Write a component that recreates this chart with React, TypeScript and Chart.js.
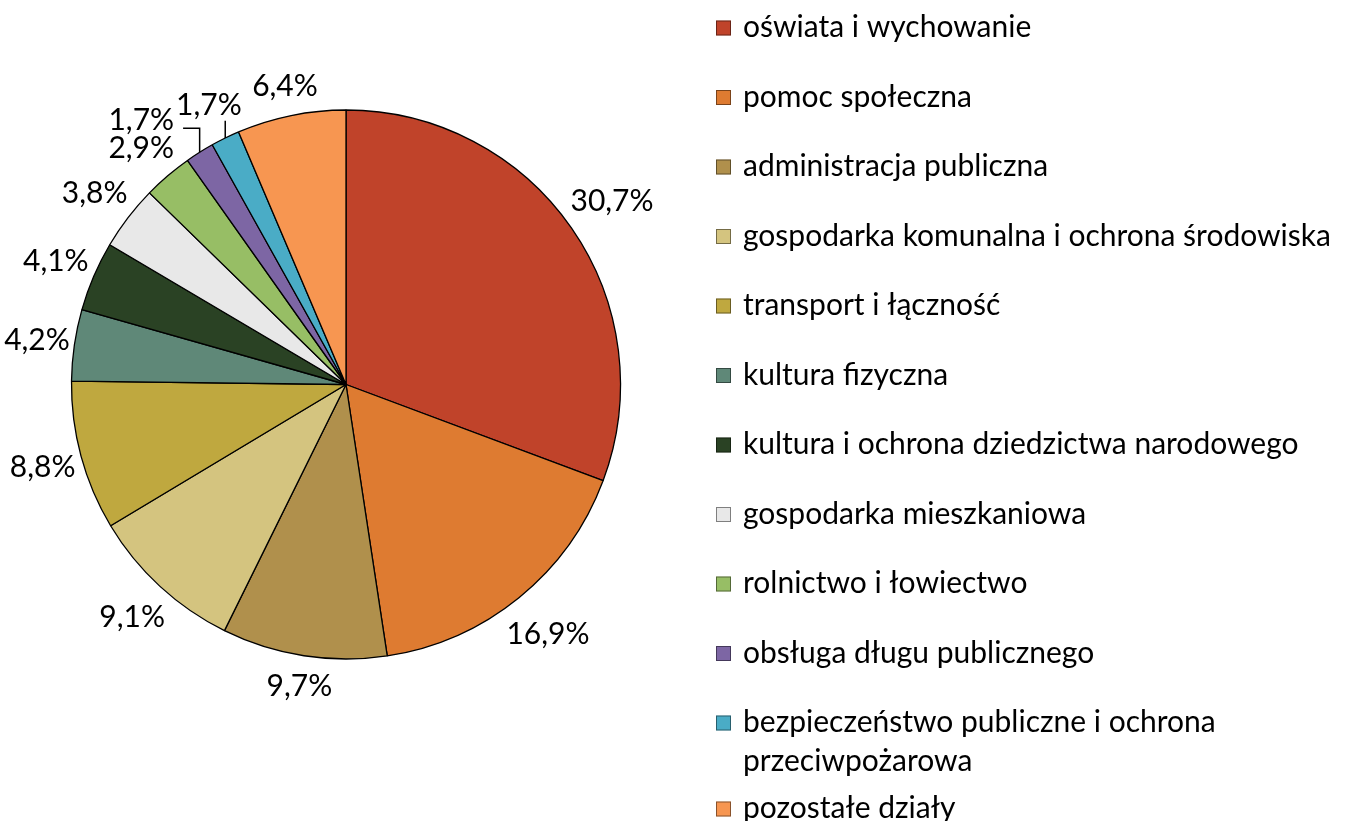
import React, { useEffect, useRef } from "react";
import { Chart, registerables } from "chart.js";

Chart.register(...registerables);

const categories: string[] = [
  "oświata i wychowanie",
  "pomoc społeczna",
  "administracja publiczna",
  "gospodarka komunalna i ochrona środowiska",
  "transport i łączność",
  "kultura fizyczna",
  "kultura i ochrona dziedzictwa narodowego",
  "gospodarka mieszkaniowa",
  "rolnictwo i łowiectwo",
  "obsługa długu publicznego",
  "bezpieczeństwo publiczne i ochrona przeciwpożarowa",
  "pozostałe działy",
];

const shares: number[] = [30.7, 16.9, 9.7, 9.1, 8.8, 4.2, 4.1, 3.8, 2.9, 1.7, 1.7, 6.4];

const sliceColors: string[] = [
  "#C0432A",
  "#DE7B31",
  "#B0904C",
  "#D4C47F",
  "#BFA83F",
  "#5F8878",
  "#2A4224",
  "#E8E8E8",
  "#97BE65",
  "#7D66A4",
  "#4AACC6",
  "#F79651",
];

const FONT_FAMILY = "Lato, 'Open Sans', sans-serif";
const FONT_SIZE = 30;
const LABEL_H = 26;

const fmt = (v: number) => v.toFixed(1).replace(".", ",") + "%";

type Box = { cx: number; cy: number; w: number; h: number };
const overlap = (a: Box, b: Box, pad: number) =>
  Math.abs(a.cx - b.cx) < (a.w + b.w) / 2 + pad && Math.abs(a.cy - b.cy) < (a.h + b.h) / 2 + pad;

const pieLabelsPlugin = {
  id: "pieLabels",
  afterDatasetsDraw(chart: any) {
    const ctx: CanvasRenderingContext2D = chart.ctx;
    const meta = chart.getDatasetMeta(0);
    ctx.save();
    ctx.font = `${FONT_SIZE}px ${FONT_FAMILY}`;
    const items: any[] = [];
    meta.data.forEach((arc: any, i: number) => {
      const p = arc.getProps(["x", "y", "startAngle", "endAngle", "outerRadius"], true);
      const mid = (p.startAngle + p.endAngle) / 2;
      const dx = Math.cos(mid);
      const dy = Math.sin(mid);
      const text = fmt(shares[i]);
      const w = ctx.measureText(text).width;
      const h = LABEL_H;
      const gap = 2 + 10 * Math.abs(dy);
      const support = (Math.abs(dx) * w) / 2 + (Math.abs(dy) * h) / 2;
      const R = p.outerRadius + gap + support;
      items[i] = {
        text, w, h, dx, dy, p,
        cx: p.x + dx * R,
        cy: p.y + dy * R,
        ox: p.x + dx * R,
        oy: p.y + dy * R,
        span: (p.endAngle - p.startAngle) * p.outerRadius,
      };
    });
    // resolve collisions, going counter-clockwise from the last slice
    const placed: any[] = [];
    for (let i = items.length - 1; i >= 0; i--) {
      const it = items[i];
      for (let iter = 0; iter < 10; iter++) {
        const hit = placed.find((o) => overlap(it, o, 2));
        if (!hit) break;
        const cands = [
          { x: hit.cx - (hit.w + it.w) / 2 - 2 - it.cx, y: 0 },
          { x: hit.cx + (hit.w + it.w) / 2 + 2 - it.cx, y: 0 },
          { x: 0, y: hit.cy - (hit.h + it.h) / 2 - 2 - it.cy },
          { x: 0, y: hit.cy + (hit.h + it.h) / 2 + 2 - it.cy },
        ].filter((c) => {
          const nx = it.cx + c.x;
          const ny = it.cy + c.y;
          const qx = Math.max(nx - it.w / 2, Math.min(it.p.x, nx + it.w / 2));
          const qy = Math.max(ny - it.h / 2, Math.min(it.p.y, ny + it.h / 2));
          return Math.hypot(qx - it.p.x, qy - it.p.y) > it.p.outerRadius + 3;
        });
        if (!cands.length) break;
        cands.sort((a, b) => Math.hypot(a.x, a.y) - Math.hypot(b.x, b.y));
        it.cx += cands[0].x;
        it.cy += cands[0].y;
      }
      placed.push(it);
    }
    ctx.fillStyle = "#000";
    ctx.strokeStyle = "#000";
    ctx.lineWidth = 1.5;
    ctx.textAlign = "center";
    ctx.textBaseline = "middle";
    items.forEach((it) => {
      ctx.fillText(it.text, it.cx, it.cy + 1);
      const moved = Math.hypot(it.cx - it.ox, it.cy - it.oy) > 12;
      if (moved || it.span < it.w * 0.6) {
        const ex = it.p.x + it.dx * it.p.outerRadius;
        const ey = it.p.y + it.dy * it.p.outerRadius;
        const left = it.cx - it.w / 2;
        const right = it.cx + it.w / 2;
        const top = it.cy - it.h / 2;
        const bottom = it.cy + it.h / 2;
        ctx.beginPath();
        if (ex > left + 4 && ex < right - 4) {
          ctx.moveTo(ex, ey);
          ctx.lineTo(ex, ey > bottom ? bottom + 3 : top - 3);
        } else {
          const ly = ey > bottom ? bottom - 4 : ey < top ? top + 4 : ey;
          const lx = ex > right ? right + 9 : left - 9;
          ctx.moveTo(ex, ey);
          ctx.lineTo(ex, ly);
          ctx.lineTo(lx, ly);
        }
        ctx.stroke();
      }
    });
    ctx.restore();
  },
};

const LEGEND_BOX_X = 716;
const LEGEND_TEXT_X = 743;
const LEGEND_TOP = 28;
const LEGEND_STEP = 69.5;
const LEGEND_EXTRA_LINE = 16.5;
const LEGEND_LINE_H = 39;
const LEGEND_MAX_W = 606;

const legendPlugin = {
  id: "sideLegend",
  afterDraw(chart: any) {
    const ctx: CanvasRenderingContext2D = chart.ctx;
    ctx.save();
    ctx.font = `${FONT_SIZE}px ${FONT_FAMILY}`;
    ctx.textAlign = "left";
    ctx.textBaseline = "middle";
    let y = LEGEND_TOP;
    categories.forEach((label, i) => {
      const words = label.split(" ");
      const lines: string[] = [];
      let cur = "";
      words.forEach((w) => {
        const t = cur ? cur + " " + w : w;
        if (cur && ctx.measureText(t).width > LEGEND_MAX_W) {
          lines.push(cur);
          cur = w;
        } else cur = t;
      });
      lines.push(cur);
      ctx.fillStyle = sliceColors[i];
      ctx.fillRect(LEGEND_BOX_X, y - 7.5, 15, 15);
      ctx.strokeStyle = "rgba(0,0,0,0.45)";
      ctx.lineWidth = 1;
      ctx.strokeRect(LEGEND_BOX_X + 0.5, y - 7, 14, 14);
      ctx.fillStyle = "#000";
      lines.forEach((ln, k) => ctx.fillText(ln, LEGEND_TEXT_X, y - 0.5 + k * LEGEND_LINE_H));
      y += LEGEND_STEP + (lines.length - 1) * LEGEND_EXTRA_LINE;
    });
    ctx.restore();
  },
};

export default function App() {
  const ref = useRef<HTMLCanvasElement | null>(null);
  useEffect(() => {
    document.body.style.margin = "0";
    const canvas = ref.current;
    if (!canvas) return;
    const chart = new Chart(canvas, {
      type: "pie",
      data: {
        labels: categories,
        datasets: [
          {
            data: shares,
            backgroundColor: sliceColors,
            borderColor: "#000",
            borderWidth: 1.3,
            hoverOffset: 0,
          },
        ],
      },
      options: {
        responsive: false,
        animation: false,
        radius: 274.5,
        layout: { padding: { left: 0, right: 659, top: 0, bottom: 52 } },
        plugins: {
          legend: { display: false },
          tooltip: { enabled: false },
        },
      } as any,
      plugins: [pieLabelsPlugin, legendPlugin],
    });
    return () => chart.destroy();
  }, []);
  return (
    <div style={{ width: 1351, height: 821, background: "#fff" }}>
      <canvas ref={ref} width={1351} height={821} style={{ display: "block" }} />
    </div>
  );
}
